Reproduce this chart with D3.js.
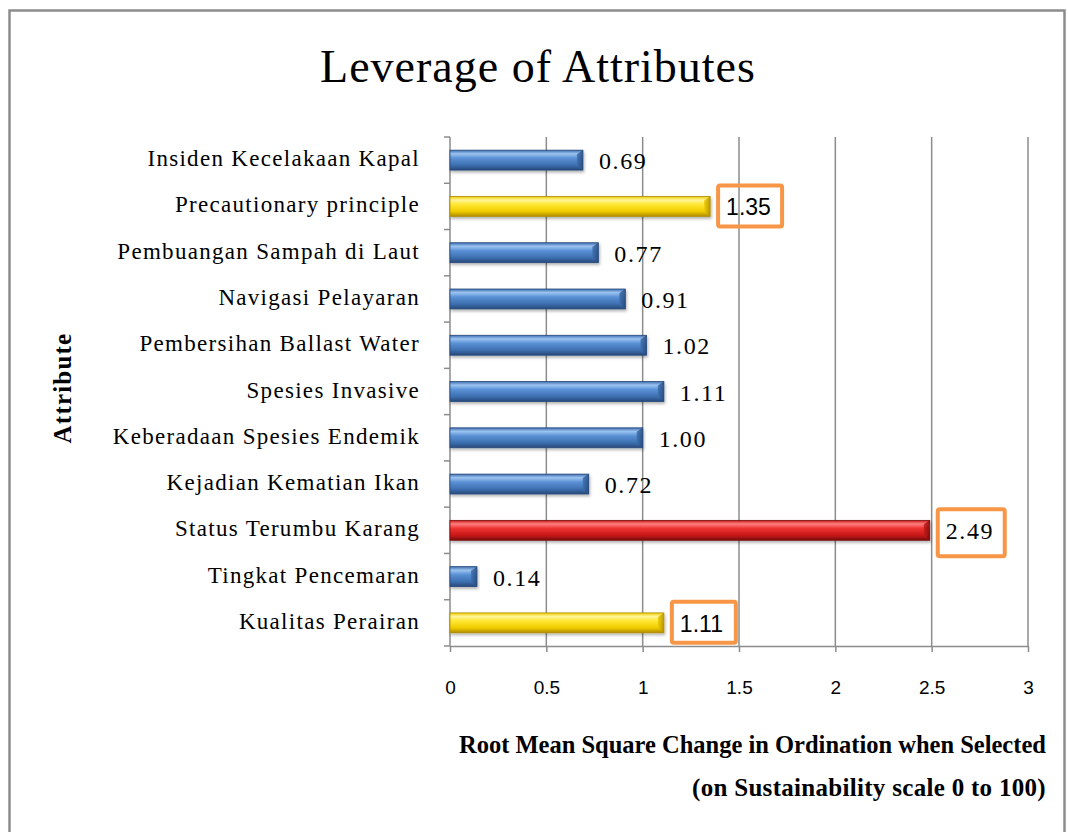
<!DOCTYPE html>
<html>
<head>
<meta charset="utf-8">
<script src="https://cdn.jsdelivr.net/npm/d3@7"></script>
<style>
  body { margin: 0; background: #fff; }
  svg { display: block; }
</style>
</head>
<body>
<div id="myChart"></div>
<script>
// data, top row first
const attributes = [
  "Insiden Kecelakaan Kapal",
  "Precautionary principle",
  "Pembuangan Sampah di Laut",
  "Navigasi Pelayaran",
  "Pembersihan Ballast Water",
  "Spesies Invasive",
  "Keberadaan Spesies Endemik",
  "Kejadian Kematian Ikan",
  "Status Terumbu Karang",
  "Tingkat Pencemaran",
  "Kualitas Perairan"
];
const rmsValues = [0.69, 1.35, 0.77, 0.91, 1.02, 1.11, 1.00, 0.72, 2.49, 0.14, 1.11];
const highlight = ["blue", "yellow", "blue", "blue", "blue", "blue", "blue", "blue", "red", "blue", "yellow"];
const boxed = [false, true, false, false, false, false, false, false, true, false, true];
const xTicks = [0, 0.5, 1, 1.5, 2, 2.5, 3];

const width = 1068, height = 832;
const serif = "'Liberation Serif', 'DejaVu Serif', serif";
const sans = "'Liberation Sans', Arial, sans-serif";

const svg = d3.select("#myChart")
  .append("svg")
    .attr("width", width)
    .attr("height", height);

// gradients for the bevelled bars
const palettes = {
  blue:   ["#9cc3f0", "#5a91d6", "#3d6fb0", "#27497a"],
  yellow: ["#fff59a", "#ffe733", "#f0cc00", "#b08c00"],
  red:    ["#ff8080", "#ee3333", "#c81818", "#7a0c0c"]
};
const defs = svg.append("defs");
Object.keys(palettes).forEach(function(k) {
  const p = palettes[k];
  const g = defs.append("linearGradient")
    .attr("id", "grad-" + k)
    .attr("x1", 0).attr("y1", 0).attr("x2", 0).attr("y2", 1);
  g.append("stop").attr("offset", "0%").attr("stop-color", p[2]);
  g.append("stop").attr("offset", "18%").attr("stop-color", p[0]);
  g.append("stop").attr("offset", "40%").attr("stop-color", p[1]);
  g.append("stop").attr("offset", "75%").attr("stop-color", p[2]);
  g.append("stop").attr("offset", "100%").attr("stop-color", p[3]);
  const c = defs.append("linearGradient")
    .attr("id", "cap-" + k)
    .attr("x1", 0).attr("y1", 0).attr("x2", 1).attr("y2", 0);
  c.append("stop").attr("offset", "0%").attr("stop-color", p[2]);
  c.append("stop").attr("offset", "100%").attr("stop-color", p[3]);
});
const shadow = defs.append("filter").attr("id", "shadow")
  .attr("x", "-10%").attr("y", "-30%").attr("width", "120%").attr("height", "180%");
shadow.append("feDropShadow")
  .attr("dx", 1).attr("dy", 2).attr("stdDeviation", 1.5)
  .attr("flood-color", "#000").attr("flood-opacity", 0.3);

// outer frame
svg.append("rect")
  .attr("x", 9.5).attr("y", 10.5)
  .attr("width", 1055).attr("height", 840)
  .attr("fill", "none")
  .attr("stroke", "#8c8c8c")
  .attr("stroke-width", 2.5);

// title
svg.append("text")
  .attr("x", 538)
  .attr("y", 82)
  .attr("text-anchor", "middle")
  .style("font-family", serif)
  .style("font-size", "46px")
  .style("letter-spacing", "1px")
  .text("Leverage of Attributes");

// scales
const x = d3.scaleLinear()
  .domain([0, 3])
  .range([450, 1028]);
const y = d3.scaleBand()
  .domain(attributes)
  .range([137, 646]);
const barH = y.bandwidth() * 0.43;

// gridlines
svg.append("g")
  .selectAll("line")
  .data(xTicks.slice(1))
  .join("line")
    .attr("x1", function(d) { return x(d); })
    .attr("x2", function(d) { return x(d); })
    .attr("y1", 137)
    .attr("y2", 646)
    .attr("stroke", "#8c8c8c")
    .attr("stroke-width", 1.5);

// X axis
const xAxis = svg.append("g")
  .attr("transform", "translate(0,646)")
  .call(d3.axisBottom(x).tickValues(xTicks).tickSize(6).tickSizeOuter(0).tickFormat(d3.format("")));
xAxis.select(".domain").attr("stroke", "#8c8c8c").attr("stroke-width", 1.5);
xAxis.selectAll(".tick line").attr("stroke", "#8c8c8c").attr("stroke-width", 1.5);
xAxis.selectAll(".tick text")
  .attr("y", 35)
  .style("font-family", sans)
  .style("font-size", "19px")
  .attr("fill", "#000");

// Y axis line + ticks at band edges
const yAxisG = svg.append("g");
yAxisG.append("line")
  .attr("x1", 450).attr("x2", 450)
  .attr("y1", 137).attr("y2", 646)
  .attr("stroke", "#8c8c8c").attr("stroke-width", 1.5);
yAxisG.selectAll("line.tk")
  .data(attributes)
  .join("line")
    .attr("class", "tk")
    .attr("x1", 444).attr("x2", 450)
    .attr("y1", function(d) { return y(d); })
    .attr("y2", function(d) { return y(d); })
    .attr("stroke", "#8c8c8c").attr("stroke-width", 1.5);
yAxisG.append("line")
  .attr("x1", 444).attr("x2", 450)
  .attr("y1", 646).attr("y2", 646)
  .attr("stroke", "#8c8c8c").attr("stroke-width", 1.5);

// category labels
svg.selectAll("text.cat")
  .data(attributes)
  .join("text")
    .attr("class", "cat")
    .attr("x", 420)
    .attr("y", function(d) { return y(d) + y.bandwidth() / 2 - 2; })
    .attr("dy", "0.35em")
    .attr("text-anchor", "end")
    .style("font-family", serif)
    .style("font-size", "23px")
    .style("letter-spacing", "1.3px")
    .text(function(d) { return d; });

// bars
const bars = svg.selectAll("g.bar")
  .data(attributes)
  .join("g")
    .attr("class", "bar")
    .attr("filter", "url(#shadow)");

bars.append("rect")
  .attr("x", x(0))
  .attr("y", function(d) { return y(d) + (y.bandwidth() - barH) / 2; })
  .attr("width", function(d, i) { return x(rmsValues[i]) - x(0); })
  .attr("height", barH)
  .attr("fill", function(d, i) { return "url(#grad-" + highlight[i] + ")"; })
  .attr("stroke", function(d, i) { return palettes[highlight[i]][3]; })
  .attr("stroke-width", 0.8);

// bevelled end cap
bars.append("path")
  .attr("d", function(d, i) {
    const x1 = x(rmsValues[i]), x0 = x1 - 6;
    const t = y(d) + (y.bandwidth() - barH) / 2, b = t + barH;
    return "M" + x0 + "," + (t + 4) + "L" + x1 + "," + t + "L" + x1 + "," + b + "L" + x0 + "," + (b - 4) + "Z";
  })
  .attr("fill", function(d, i) { return "url(#cap-" + highlight[i] + ")"; })
  .attr("opacity", 0.85);

// value labels
const isSansLabel = function(i) { return boxed[i] && highlight[i] === "yellow"; };
svg.selectAll("text.val")
  .data(attributes)
  .join("text")
    .attr("class", "val")
    .attr("x", function(d, i) { return x(rmsValues[i]) + 16; })
    .attr("y", function(d) { return y(d) + y.bandwidth() / 2; })
    .attr("dy", "0.38em")
    .style("font-family", function(d, i) { return isSansLabel(i) ? sans : serif; })
    .style("font-size", function(d, i) { return isSansLabel(i) ? "23px" : "24px"; })
    .style("letter-spacing", function(d, i) { return isSansLabel(i) ? "0px" : "1.6px"; })
    .text(function(d, i) { return rmsValues[i].toFixed(2); });

// orange boxes around highlighted labels
svg.selectAll("rect.box")
  .data(attributes.filter(function(d, i) { return boxed[i]; }))
  .join("rect")
    .attr("class", "box")
    .attr("x", function(d) { return x(rmsValues[attributes.indexOf(d)]) + 8; })
    .attr("y", function(d) { return y(d) + y.bandwidth() / 2 - 21; })
    .attr("width", function(d) { return highlight[attributes.indexOf(d)] === "red" ? 67 : 64; })
    .attr("height", function(d) { return highlight[attributes.indexOf(d)] === "red" ? 47 : 41; })
    .attr("rx", 2)
    .attr("fill", "none")
    .attr("stroke", "#f79646")
    .attr("stroke-width", 4);

// Y axis title
svg.append("text")
  .attr("transform", "translate(71,388) rotate(-90)")
  .attr("text-anchor", "middle")
  .style("font-family", serif)
  .style("font-size", "25px")
  .style("font-weight", "bold")
  .style("letter-spacing", "1.2px")
  .text("Attribute");

// X axis title, two lines
svg.append("text")
  .attr("x", 459)
  .attr("y", 753)
  .style("font-family", serif)
  .style("font-size", "24.5px")
  .style("font-weight", "bold")
  .text("Root Mean Square Change in Ordination when Selected");
svg.append("text")
  .attr("x", 1046)
  .attr("y", 796)
  .attr("text-anchor", "end")
  .style("font-family", serif)
  .style("font-size", "25px")
  .style("font-weight", "bold")
  .style("letter-spacing", "0.3px")
  .text("(on Sustainability scale 0 to 100)");
</script>
</body>
</html>
